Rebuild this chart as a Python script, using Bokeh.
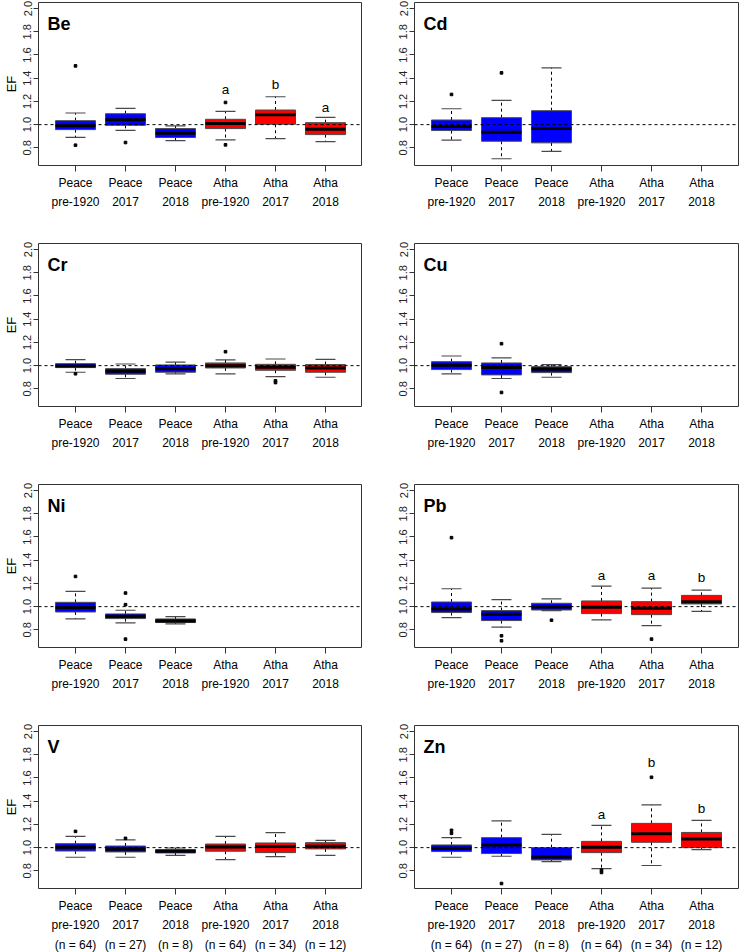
from bokeh.plotting import figure
from bokeh.models import Span, Label, FixedTicker, Range1d, PrintfTickFormatter, ColumnDataSource
from bokeh.layouts import gridplot
from bokeh.embed import file_html
from bokeh.resources import INLINE
from bokeh.core.properties import value

# ---------------- data ----------------
GROUP_X = [1, 2, 3, 4, 5, 6]
SITES = ["Peace", "Peace", "Peace", "Atha", "Atha", "Atha"]
PERIODS = ["pre-1920", "2017", "2018", "pre-1920", "2017", "2018"]
N_LABELS = ["(n = 64)", "(n = 27)", "(n = 8)", "(n = 64)", "(n = 34)", "(n = 12)"]
GROUP_COLORS = ["#0000FF", "#0000FF", "#0000FF", "#FF0000", "#FF0000", "#FF0000"]
Y_TICKS = [0.8, 1.0, 1.2, 1.4, 1.6, 1.8, 2.0]
REF_LINE = 1.0

# Be
BE_LOW = [0.890, 0.950, 0.863, 0.869, 0.880, 0.854]
BE_Q1 = [0.957, 0.994, 0.889, 0.966, 1.003, 0.914]
BE_MED = [0.990, 1.043, 0.926, 1.009, 1.086, 0.960]
BE_Q3 = [1.034, 1.094, 0.966, 1.046, 1.126, 1.017]
BE_HIGH = [1.100, 1.140, 0.989, 1.114, 1.240, 1.063]
BE_OUT_X = [1, 1, 2, 4, 4]
BE_OUT_Y = [1.506, 0.823, 0.846, 1.191, 0.826]
BE_LET_X = [4, 5, 6]
BE_LET = ["a", "b", "a"]
BE_LET_Y = [1.303, 1.343, 1.149]

# Cd
CD_LOW = [0.866, 0.706, 0.769]
CD_Q1 = [0.949, 0.857, 0.843]
CD_MED = [0.983, 0.934, 0.966]
CD_Q3 = [1.040, 1.060, 1.120]
CD_HIGH = [1.137, 1.209, 1.489]
CD_OUT_X = [1, 2]
CD_OUT_Y = [1.260, 1.446]

# Cr
CR_LOW = [0.943, 0.889, 0.929, 0.929, 0.906, 0.900]
CR_Q1 = [0.983, 0.926, 0.943, 0.980, 0.960, 0.943]
CR_MED = [0.997, 0.951, 0.974, 1.000, 0.986, 0.980]
CR_Q3 = [1.017, 0.974, 1.006, 1.023, 1.011, 1.009]
CR_HIGH = [1.051, 1.014, 1.031, 1.049, 1.057, 1.054]
CR_OUT_X = [1, 4, 5, 5]
CR_OUT_Y = [0.930, 1.120, 0.869, 0.854]

# Cu
CU_LOW = [0.929, 0.889, 0.900]
CU_Q1 = [0.966, 0.920, 0.940]
CU_MED = [1.003, 0.983, 0.969]
CU_Q3 = [1.034, 1.023, 0.991]
CU_HIGH = [1.083, 1.066, 1.009]
CU_OUT_X = [2, 2]
CU_OUT_Y = [1.189, 0.769]

# Ni
NI_LOW = [0.894, 0.860, 0.851]
NI_Q1 = [0.954, 0.897, 0.863]
NI_MED = [0.991, 0.917, 0.877]
NI_Q3 = [1.037, 0.937, 0.894]
NI_HIGH = [1.131, 0.969, 0.914]
NI_OUT_X = [1, 2, 2, 2]
NI_OUT_Y = [1.260, 1.117, 1.017, 0.720]

# Pb
PB_LOW = [0.906, 0.823, 0.966, 0.886, 0.837, 0.960]
PB_Q1 = [0.949, 0.880, 0.971, 0.940, 0.931, 1.023]
PB_MED = [0.980, 0.934, 0.997, 0.994, 0.986, 1.043]
PB_Q3 = [1.040, 0.966, 1.029, 1.049, 1.043, 1.097]
PB_HIGH = [1.154, 1.060, 1.066, 1.177, 1.160, 1.143]
PB_OUT_X = [1, 2, 2, 3, 5]
PB_OUT_Y = [1.594, 0.749, 0.706, 0.883, 0.720]
PB_LET_X = [4, 5, 6]
PB_LET = ["a", "a", "b"]
PB_LET_Y = [1.271, 1.271, 1.249]

# V
V_LOW = [0.917, 0.917, 0.934, 0.897, 0.923, 0.934]
V_Q1 = [0.971, 0.963, 0.954, 0.969, 0.957, 0.989]
V_MED = [1.003, 0.986, 0.969, 1.006, 1.009, 1.011]
V_Q3 = [1.034, 1.014, 0.983, 1.031, 1.040, 1.043]
V_HIGH = [1.097, 1.066, 0.997, 1.097, 1.129, 1.063]
V_OUT_X = [1, 2]
V_OUT_Y = [1.140, 1.080]

# Zn
ZN_LOW = [0.917, 0.926, 0.880, 0.820, 0.846, 0.983]
ZN_Q1 = [0.966, 0.949, 0.894, 0.957, 1.046, 1.000]
ZN_MED = [0.994, 1.023, 0.920, 1.003, 1.120, 1.074]
ZN_Q3 = [1.023, 1.086, 1.000, 1.054, 1.209, 1.131]
ZN_HIGH = [1.086, 1.231, 1.114, 1.191, 1.369, 1.234]
ZN_OUT_X = [1, 1, 2, 4, 4, 5]
ZN_OUT_Y = [1.149, 1.123, 0.691, 0.806, 0.786, 1.606]
ZN_LET_X = [4, 5, 6]
ZN_LET = ["a", "b", "b"]
ZN_LET_Y = [1.286, 1.730, 1.337]

PANELS = [
    ("Be", BE_LOW, BE_Q1, BE_MED, BE_Q3, BE_HIGH, BE_OUT_X, BE_OUT_Y, BE_LET_X, BE_LET, BE_LET_Y),
    ("Cd", CD_LOW, CD_Q1, CD_MED, CD_Q3, CD_HIGH, CD_OUT_X, CD_OUT_Y, [], [], []),
    ("Cr", CR_LOW, CR_Q1, CR_MED, CR_Q3, CR_HIGH, CR_OUT_X, CR_OUT_Y, [], [], []),
    ("Cu", CU_LOW, CU_Q1, CU_MED, CU_Q3, CU_HIGH, CU_OUT_X, CU_OUT_Y, [], [], []),
    ("Ni", NI_LOW, NI_Q1, NI_MED, NI_Q3, NI_HIGH, NI_OUT_X, NI_OUT_Y, [], [], []),
    ("Pb", PB_LOW, PB_Q1, PB_MED, PB_Q3, PB_HIGH, PB_OUT_X, PB_OUT_Y, PB_LET_X, PB_LET, PB_LET_Y),
    ("V", V_LOW, V_Q1, V_MED, V_Q3, V_HIGH, V_OUT_X, V_OUT_Y, [], [], []),
    ("Zn", ZN_LOW, ZN_Q1, ZN_MED, ZN_Q3, ZN_HIGH, ZN_OUT_X, ZN_OUT_Y, ZN_LET_X, ZN_LET, ZN_LET_Y),
]

# ---------------- style ----------------
FONT = "Liberation Sans"
X_START, X_END = 0.26, 6.74
Y_START, Y_END = 0.648, 2.052
BOX_W = 0.8
CAP_W = 0.4
FRAME_W = 324
FRAME_H = 163
EDGE = "#4a4a4a"


def make_panel(idx, spec):
    name, lo, q1, med, q3, hi, ox, oy, lx, lt, ly = spec
    col = idx % 2
    row = idx // 2
    last_row = row == 3
    p = figure(
        frame_width=FRAME_W, frame_height=FRAME_H,
        x_range=Range1d(X_START, X_END), y_range=Range1d(Y_START, Y_END),
        output_backend="svg", toolbar_location=None, tools="",
        min_border_left=10 if col == 0 else 52,
        min_border_right=0 if col == 0 else 3,
        min_border_top=2,
        min_border_bottom=58 if last_row else 76,
        background_fill_color="white", border_fill_color="white",
    )
    p.outline_line_color = "#333333"
    p.outline_line_width = 1
    p.xgrid.visible = False
    p.ygrid.visible = False

    n = len(lo)
    xs = GROUP_X[:n]
    colors = GROUP_COLORS[:n]
    src = ColumnDataSource(dict(
        x=xs, lo=lo, q1=q1, med=med, q3=q3, hi=hi, color=colors,
        xl=[x - BOX_W / 2 for x in xs], xr=[x + BOX_W / 2 for x in xs],
        cl=[x - CAP_W / 2 for x in xs], cr=[x + CAP_W / 2 for x in xs],
    ))
    # whiskers
    p.segment(x0="x", y0="q3", x1="x", y1="hi", source=src, line_color="black",
              line_width=1, line_dash="3 3")
    p.segment(x0="x", y0="q1", x1="x", y1="lo", source=src, line_color="black",
              line_width=1, line_dash="3 3")
    # caps
    p.segment(x0="cl", y0="hi", x1="cr", y1="hi", source=src, line_color=EDGE, line_width=1.2)
    p.segment(x0="cl", y0="lo", x1="cr", y1="lo", source=src, line_color=EDGE, line_width=1.2)
    # boxes
    p.vbar(x="x", width=BOX_W, bottom="q1", top="q3", source=src,
           fill_color="color", line_color=EDGE, line_width=1)
    # medians
    p.segment(x0="xl", y0="med", x1="xr", y1="med", source=src, line_color="black", line_width=3)
    # outliers
    if ox:
        p.scatter(x=ox, y=oy, marker="square", size=2.6, color="black")
    # significance letters
    if lx:
        p.text(x=lx, y=ly, text=lt, text_align="center", text_baseline="middle",
               text_font_size="13.5px", text_font=value(FONT), text_color="black")

    p.add_layout(Span(location=REF_LINE, dimension="width", line_color="black",
                      line_dash="3 3", line_width=1))
    p.add_layout(Label(x=X_START + 0.18, y=Y_END - 0.095, text=name, text_font=FONT,
                       text_font_size="18px", text_font_style="bold",
                       text_baseline="top", text_align="left", text_color="black"))

    # x axis
    xa = p.xaxis[0]
    xa.ticker = FixedTicker(ticks=GROUP_X)
    if last_row:
        xa.major_label_overrides = {g: f"{s}\n{t}\n{m}" for g, s, t, m in zip(GROUP_X, SITES, PERIODS, N_LABELS)}
    else:
        xa.major_label_overrides = {g: f"{s}\n{t}" for g, s, t in zip(GROUP_X, SITES, PERIODS)}
    xa.major_label_text_font = FONT
    xa.major_label_text_font_size = "12px"
    xa.major_label_text_line_height = 1.4
    xa.major_label_text_color = "black"
    xa.major_label_standoff = 4
    xa.axis_line_color = None
    xa.major_tick_line_color = "#333333"
    xa.major_tick_out = 6
    xa.major_tick_in = 0
    xa.minor_tick_line_color = None

    ya = p.yaxis[0]
    ya.ticker = FixedTicker(ticks=Y_TICKS)
    ya.formatter = PrintfTickFormatter(format="%.1f")
    ya.major_label_orientation = "parallel"
    ya.major_label_text_font = FONT
    ya.major_label_text_font_size = "11px"
    ya.major_label_text_color = "#222222"
    ya.major_label_standoff = 2
    ya.axis_line_color = None
    ya.major_tick_line_color = "#333333"
    ya.major_tick_out = 5
    ya.major_tick_in = 0
    ya.minor_tick_line_color = None
    if col == 0:
        ya.axis_label = "EF"
        ya.axis_label_text_font = FONT
        ya.axis_label_text_font_size = "13px"
        ya.axis_label_text_font_style = "normal"
        ya.axis_label_text_color = "black"
        ya.axis_label_standoff = 2
    return p


figs = [make_panel(i, s) for i, s in enumerate(PANELS)]
grid = gridplot([[figs[0], figs[1]], [figs[2], figs[3]], [figs[4], figs[5]], [figs[6], figs[7]]],
                toolbar_location=None)

open("out.html", "w").write(file_html(grid, INLINE))
